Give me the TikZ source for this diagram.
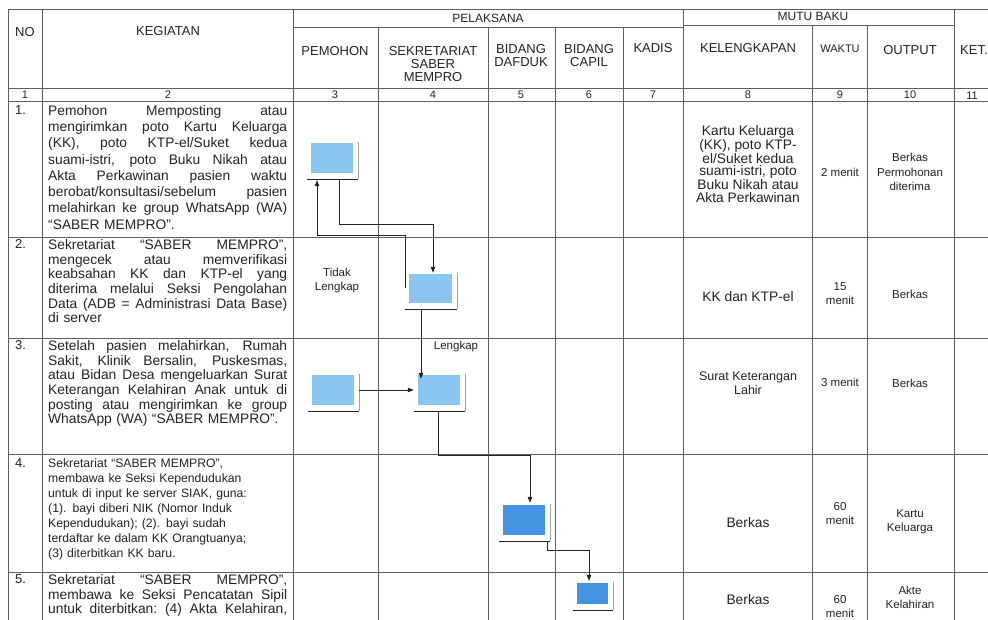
\documentclass[tikz,border=0pt]{standalone}
\usepackage{fontspec}
\setmainfont{Liberation Sans}
\usetikzlibrary{arrows.meta}
\definecolor{gridc}{RGB}{95,95,95}
\definecolor{inkc}{RGB}{35,35,35}
\definecolor{boxlight}{RGB}{138,198,240}
\definecolor{boxdark}{RGB}{66,148,226}
\definecolor{shadc}{RGB}{160,160,160}
\newcommand{\jl}[1]{\makebox[239pt][s]{\spaceskip=0.26em plus 1fil minus 0.05em\xspaceskip=0.26em plus 1fil minus 0.05em\relax #1}}
\newcommand{\boxdeco}[1]{%
  \draw[shadline] ([xshift=5pt,yshift=1pt]#1.north east) -- ([xshift=5pt,yshift=-6pt]#1.south east);
  \draw[boxfoot] ([xshift=-4pt,yshift=-6pt]#1.south west) -- ([xshift=5pt,yshift=-6pt]#1.south east);}
\begin{document}
\begin{tikzpicture}[x=1pt,y=-1pt,
  gridline/.style={draw=gridc,line width=0.7pt},
  hd/.style={inner sep=0,align=center,text=inkc,font=\fontsize{13}{13}\selectfont},
  nm/.style={inner sep=0,text=inkc,font=\fontsize{11}{11}\selectfont},
  para/.style={anchor=north west,inner sep=0,text width=239pt,align=left,text=inkc,font=\fontsize{13.8}{14.6}\selectfont},
  rowno/.style={anchor=north west,inner sep=0,text=inkc,font=\fontsize{13}{14}\selectfont},
  cell/.style={inner sep=0,align=center,text=inkc,font=\fontsize{13.8}{12.8}\selectfont},
  small/.style={inner sep=0,align=center,text=inkc,font=\fontsize{11.5}{14}\selectfont},
  lbl/.style={inner sep=0,align=center,text=inkc,font=\fontsize{11.5}{14}\selectfont},
  pbox/.style={fill=boxlight,draw=none,inner sep=0,minimum width=42pt,minimum height=30pt},
  dbox/.style={fill=boxdark,draw=none,inner sep=0,minimum width=42pt,minimum height=30pt},
  shadline/.style={draw=shadc,line width=0.8pt},
  boxfoot/.style={draw=inkc,line width=1.2pt},
  arr/.style={draw=inkc,line width=0.8pt,-{Triangle[length=6pt,width=4.5pt]}}]
\fill[white] (0,0) rectangle (988,620);
\useasboundingbox (0,0) rectangle (988,620);
% table lines
\draw[gridline] (8,9) -- (988,9);
\draw[gridline] (293,27) -- (683,27);
\draw[gridline] (683,25) -- (954,25);
\draw[gridline] (8,88) -- (988,88);
\draw[gridline] (8,101) -- (988,101);
\draw[gridline] (8,237) -- (988,237);
\draw[gridline] (8,338) -- (988,338);
\draw[gridline] (8,454) -- (988,454);
\draw[gridline] (8,572) -- (988,572);
\draw[gridline] (8,9) -- (8,620);
\draw[gridline] (42,9) -- (42,620);
\draw[gridline] (293,9) -- (293,620);
\draw[gridline] (378,27) -- (378,620);
\draw[gridline] (488,27) -- (488,620);
\draw[gridline] (555,27) -- (555,620);
\draw[gridline] (623,27) -- (623,620);
\draw[gridline] (683,9) -- (683,620);
\draw[gridline] (812,25) -- (812,620);
\draw[gridline] (867,25) -- (867,620);
\draw[gridline] (954,9) -- (954,620);
% headers
\node[hd] (hno) at (25,32) {NO};
\node[hd] (hkeg) at (168,31) {KEGIATAN};
\node[hd,font=\fontsize{12}{12}\selectfont] (hpel) at (488,18) {PELAKSANA};
\node[hd,font=\fontsize{12}{12}\selectfont] (hmutu) at (813,16) {MUTU BAKU};
\node[hd] (hpem) at (335,51) {PEMOHON};
\node[hd] (hsek) at (433,64) {SEKRETARIAT\\SABER\\MEMPRO};
\node[hd] (hdaf) at (521,56) {BIDANG\\DAFDUK};
\node[hd] (hcap) at (589,56) {BIDANG\\CAPIL};
\node[hd] (hkad) at (653,48) {KADIS};
\node[hd] (hkel) at (748,48) {KELENGKAPAN};
\node[hd,font=\fontsize{11}{11}\selectfont] (hwak) at (840,49) {WAKTU};
\node[hd] (hout) at (910,50) {OUTPUT};
\node[hd,anchor=west] (hket) at (960,50) {KET.};
% number row
\node[nm] (c1) at (25,95) {1};
\node[nm] (c2) at (168,95) {2};
\node[nm] (c3) at (335,95) {3};
\node[nm] (c4) at (433,95) {4};
\node[nm] (c5) at (521,95) {5};
\node[nm] (c6) at (589,95) {6};
\node[nm] (c7) at (653,95) {7};
\node[nm] (c8) at (748,95) {8};
\node[nm] (c9) at (840,95) {9};
\node[nm] (c10) at (910,95) {10};
\node[nm] (c11) at (972,96) {11};
% row numbers
\node[rowno] (r1) at (15,105) {1.};
\node[rowno] (r2) at (15,239.5) {2.};
\node[rowno] (r3) at (15,340.5) {3.};
\node[rowno] (r4) at (15,458.5) {4.};
\node[rowno] (r5) at (15,574.5) {5.};
% kegiatan
\node[para,font=\fontsize{13.8}{16.3}\selectfont] (k1) at (48,105) {\jl{Pemohon Memposting atau}\\
\jl{mengirimkan poto Kartu Keluarga}\\
\jl{(KK), poto KTP-el/Suket kedua}\\
\jl{suami-istri, poto Buku Nikah atau}\\
\jl{Akta Perkawinan pasien waktu}\\
\jl{berobat/konsultasi/sebelum pasien}\\
\jl{melahirkan ke group WhatsApp (WA)}\\
``SABER MEMPRO''.};
\node[para] (k2) at (48,239.5) {\jl{Sekretariat ``SABER MEMPRO'',}\\
\jl{mengecek atau memverifikasi}\\
\jl{keabsahan KK dan KTP-el yang}\\
\jl{diterima melalui Seksi Pengolahan}\\
\jl{Data (ADB = Administrasi Data Base)}\\
di server};
\node[para] (k3) at (48,340.5) {\jl{Setelah pasien melahirkan, Rumah}\\
\jl{Sakit, Klinik Bersalin, Puskesmas,}\\
\jl{atau Bidan Desa mengeluarkan Surat}\\
\jl{Keterangan Kelahiran Anak untuk di}\\
\jl{posting atau mengirimkan ke group}\\
WhatsApp (WA) ``SABER MEMPRO''.};
\node[para,font=\fontsize{12.2}{15}\selectfont] (k4) at (48,458.5) {Sekretariat ``SABER MEMPRO'',\\
membawa ke Seksi Kependudukan\\
untuk di input ke server SIAK, guna:\\
(1). bayi diberi NIK (Nomor Induk\\
Kependudukan); (2). bayi sudah\\
terdaftar ke dalam KK Orangtuanya;\\
(3) diterbitkan KK baru.};
\node[para] (k5) at (48,574.5) {\jl{Sekretariat ``SABER MEMPRO'',}\\
\jl{membawa ke Seksi Pencatatan Sipil}\\
\jl{untuk diterbitkan: (4) Akta Kelahiran,}};
% process boxes
\node[pbox] (b1) at (332,158) {};
\node[pbox,minimum width=43pt,minimum height=29pt] (b2) at (430.5,288.5) {};
\node[pbox] (b3) at (333,390) {};
\node[pbox] (b4) at (439,390) {};
\node[dbox] (b5) at (524,520) {};
\node[dbox,minimum width=31pt,minimum height=21pt] (b6) at (592.5,593.5) {};
\boxdeco{b1}
\boxdeco{b2}
\boxdeco{b3}
\boxdeco{b4}
\boxdeco{b5}
\boxdeco{b6}
% connectors
\draw[arr,shorten >=1pt] ([xshift=7pt,yshift=-6pt]b1.south) -- ++(0,45) -| ([xshift=2.5pt]b2.north);
\draw[arr] ([xshift=-3pt]b2.west) -- ++(0,-53) -| ([xshift=-15pt,yshift=-7pt]b1.south);
\draw[arr,shorten >=2pt] ([xshift=-9.5pt,yshift=-6pt]b2.south) -- ([xshift=-9.5pt,yshift=-6pt]b2.south |- b4.north);
\draw[arr] ([xshift=5pt]b3.east) -- ([xshift=-4pt]b4.west);
\draw[arr,shorten >=2pt] ([xshift=-1pt,yshift=-6pt]b4.south) -- ++(0,44) -| ([xshift=6pt]b5.north);
\draw[arr,shorten >=2pt] ([xshift=23pt,yshift=-6pt]b5.south) -- ++(0,9) -| ([xshift=-3.5pt]b6.north);
\node[lbl] (tl) at (337,281) {Tidak\\Lengkap};
\node[lbl] (lk) at (456,347) {Lengkap};
% mutu baku
\node[cell] (m1k) at (748,164) {Kartu Keluarga\\(KK), poto KTP-\\el/Suket kedua\\suami-istri, poto\\Buku Nikah atau\\Akta Perkawinan};
\node[small] (m1w) at (840,172) {2 menit};
\node[small,font=\fontsize{11.5}{14.5}\selectfont] (m1o) at (910,172) {Berkas\\Permohonan\\diterima};
\node[cell] (m2k) at (748,297) {KK dan KTP-el};
\node[small] (m2w) at (840,294) {15\\menit};
\node[small] (m2o) at (910,294) {Berkas};
\node[cell,font=\fontsize{12.5}{14}\selectfont] (m3k) at (748,383) {Surat Keterangan\\Lahir};
\node[small] (m3w) at (840,382) {3 menit};
\node[small] (m3o) at (910,383) {Berkas};
\node[cell] (m4k) at (748,523) {Berkas};
\node[small] (m4w) at (840,514) {60\\menit};
\node[small] (m4o) at (910,522) {Kartu\\Keluarga};
\node[cell] (m5k) at (748,600) {Berkas};
\node[small] (m5w) at (840,607) {60\\menit};
\node[small] (m5o) at (910,597) {Akte\\Kelahiran};
\end{tikzpicture}
\end{document}
